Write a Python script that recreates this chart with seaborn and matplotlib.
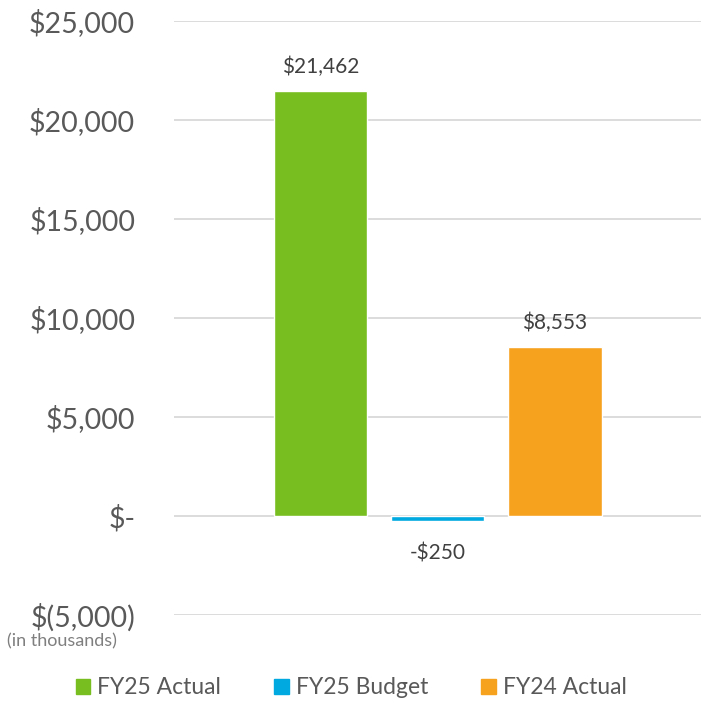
import pandas as pd
import seaborn as sns
import matplotlib.pyplot as plt

# chart values (in thousands)
series = ["FY25 Actual", "FY25 Budget", "FY24 Actual"]
values = [21462, -250, 8553]
colors = ["#78BE20", "#00A9E0", "#F7A21E"]
yticks = [-5000, 0, 5000, 10000, 15000, 20000, 25000]


def money(v):
    """format like the Excel accounting axis"""
    if v == 0:
        return "$-"
    if v < 0:
        return "$({:,.0f})".format(-v)
    return "${:,.0f}".format(v)


def main():
    df = pd.DataFrame({"group": [""] * len(series), "series": series, "value": values})

    sns.set_style("white")
    plt.rcParams["font.family"] = ["Lato", "DejaVu Sans"]
    text_col = "#595959"

    fig = plt.figure(figsize=(7.02, 7.02), dpi=100)
    ax = fig.add_axes([0.248, 0.124, 0.751, 0.846])

    sns.barplot(data=df, x="group", y="value", hue="series", hue_order=series,
                palette=dict(zip(series, colors)), width=0.667, gap=0.205,
                saturation=1, legend=False, ax=ax)

    ax.set_ylim(-5000, 25000)
    ax.set_yticks(yticks)
    ax.set_yticklabels([money(t) for t in yticks], fontsize=20.5, color=text_col)
    ax.tick_params(axis="y", length=0, pad=28)
    ax.tick_params(axis="x", length=0, labelbottom=False)
    ax.set_xlabel("")
    ax.set_ylabel("")
    ax.grid(axis="y", color="#d9d9d9", linewidth=1.3)
    ax.set_axisbelow(True)
    sns.despine(ax=ax, left=True, bottom=True)

    # data labels
    for bar, v in zip(ax.patches, values):
        x = bar.get_x() + bar.get_width() / 2
        if v >= 0:
            ax.annotate("${:,.0f}".format(v), (x, v), xytext=(0, 10),
                        textcoords="offset points", ha="center", va="bottom",
                        fontsize=15, color="#404040")
        else:
            ax.annotate("-${:,.0f}".format(-v), (x, v), xytext=(0, -16),
                        textcoords="offset points", ha="center", va="top",
                        fontsize=15, color="#404040")

    fig.text(0.01, 0.086, "(in thousands)", fontsize=13, color="#7f7f7f",
             ha="left", va="center")

    handles = [plt.Rectangle((0, 0), 1, 1, color=c) for c in colors]
    fig.legend(handles, series, loc="center", bbox_to_anchor=(0.5, 0.02),
               ncol=3, frameon=False, fontsize=16.5, handlelength=0.65,
               handleheight=0.65, handletextpad=0.3, columnspacing=2.3,
               labelcolor=text_col)

    plt.savefig("out.png", dpi=100, facecolor="white")


if __name__ == "__main__":
    main()
